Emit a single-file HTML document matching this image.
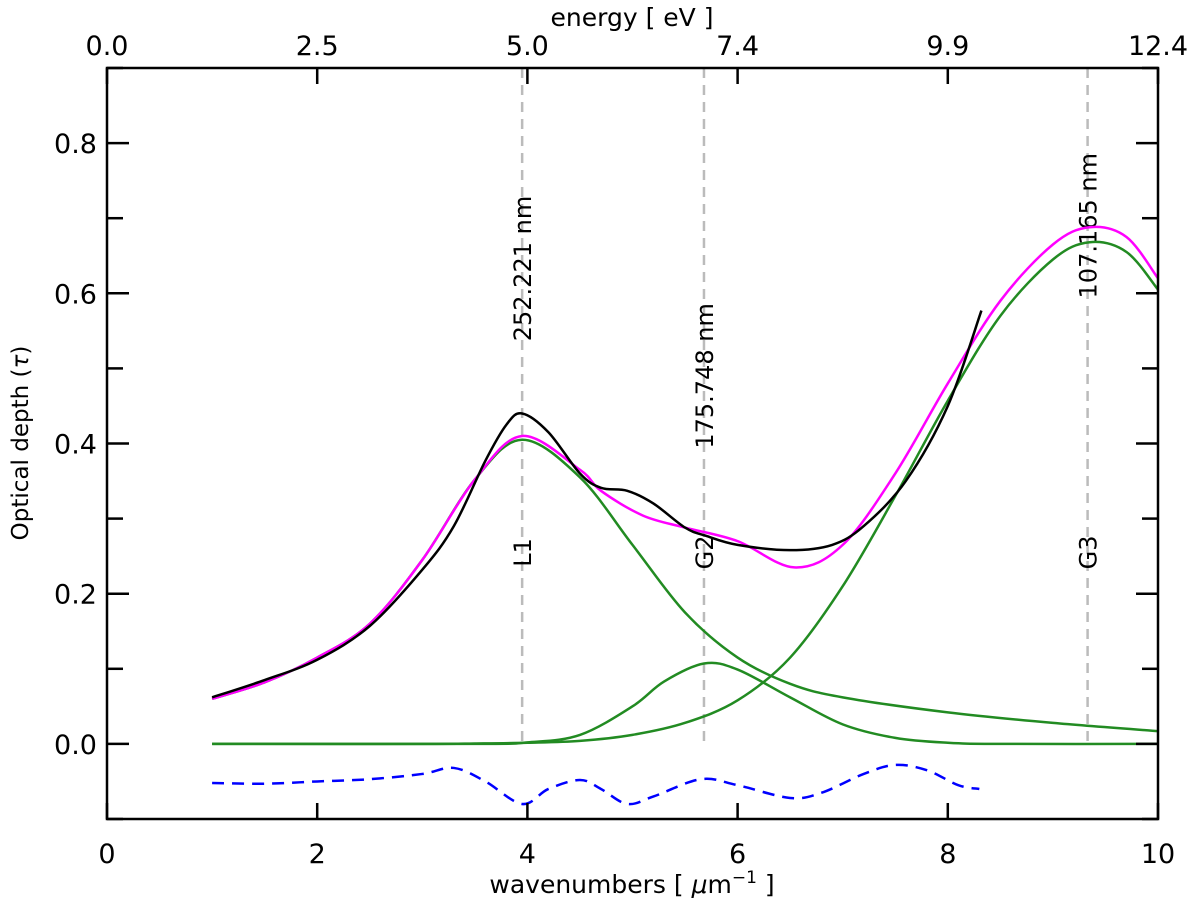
<!DOCTYPE html>
<html><head><meta charset="utf-8"><style>
body{margin:0;background:#fff}
svg text{font-family:"DejaVu Sans","Liberation Sans",sans-serif;fill:#000}
</style></head><body>
<svg id="chart" width="1200" height="907" viewBox="0 0 1200 907" xmlns="http://www.w3.org/2000/svg">
<g id="plot"></g>
</svg>
<script>
const obsX=[1,1.5,2,2.5,3,3.3,3.6,3.8,3.95,4.2,4.5,4.7,4.95,5.2,5.5,5.7,6,6.5,6.9,7.2,7.6,8,8.32];
const obsY=[0.062,0.085,0.112,0.157,0.232,0.29,0.377,0.425,0.44,0.415,0.36,0.341,0.337,0.32,0.288,0.277,0.265,0.258,0.265,0.29,0.35,0.45,0.577];
const l1X=[1,1.5,2,2.5,3,3.5,3.95,4.5,5,5.5,6,6.5,7,8,9,10];
const l1Y=[0.06,0.082,0.115,0.16,0.245,0.352,0.405,0.355,0.265,0.175,0.115,0.08,0.062,0.042,0.028,0.017];
const g2X=[1,3.5,4,4.5,5,5.3,5.68,6,6.5,7,7.5,8,8.5,10];
const g2Y=[0,0,0.002,0.012,0.05,0.083,0.107,0.099,0.062,0.026,0.008,0.0015,0,0];
const g3X=[1,3,3.5,4,4.5,5,5.5,6,6.5,7,7.5,8,8.5,9,9.35,9.7,10];
const g3Y=[0,0,0.0005,0.0015,0.004,0.012,0.028,0.058,0.115,0.21,0.33,0.457,0.57,0.645,0.668,0.655,0.605];
const fitX=[1,1.5,2,2.5,3,3.5,3.95,4.5,4.7,5.1,5.5,6,6.54,7,7.5,8,8.5,9,9.35,9.7,10];
const fitY=[0.06,0.082,0.115,0.16,0.245,0.352,0.41,0.365,0.337,0.304,0.288,0.27,0.235,0.265,0.36,0.48,0.59,0.665,0.688,0.675,0.62];
const resX=[1,1.5,2,2.5,3,3.3,3.6,3.95,4.2,4.5,4.7,4.95,5.2,5.65,6,6.5,6.8,7.2,7.5,7.8,8.1,8.3];
const resY=[-0.052,-0.053,-0.05,-0.047,-0.04,-0.032,-0.05,-0.08,-0.06,-0.048,-0.06,-0.08,-0.07,-0.047,-0.055,-0.072,-0.065,-0.04,-0.028,-0.035,-0.055,-0.06];
const bottomTicks=[0,2,4,6,8,10];
const topTickLabels=["0.0","2.5","5.0","7.4","9.9","12.4"];
const yTicks=[0,0.2,0.4,0.6,0.8];
const lineX=[3.95,5.68,9.33];
const lineNm=["252.221 nm","175.748 nm","107.165 nm"];
const lineId=["L1","G2","G3"];
const nmLabelY=[0.633,0.49,0.69];

const X0=107,X1=1158,Y0=819,Y1=68;
const sx=v=>X0+(v-0)/(10-0)*(X1-X0);
const sy=v=>Y0-(v+0.1)/(1.0)*(Y0-Y1);
const g=document.getElementById('plot');
const NS='http://www.w3.org/2000/svg';
function mk(t,a,p){const e=document.createElementNS(NS,t);for(const k in a)e.setAttribute(k,a[k]);(p||g).appendChild(e);return e;}
function smooth(xs,ys){const P=xs.map((x,i)=>[sx(x),sy(ys[i])]);let d='M'+P[0][0]+','+P[0][1];
for(let i=0;i<P.length-1;i++){const p0=P[i-1]||P[i],p1=P[i],p2=P[i+1],p3=P[i+2]||p2;
const c1=[p1[0]+(p2[0]-p0[0])/6,p1[1]+(p2[1]-p0[1])/6],c2=[p2[0]-(p3[0]-p1[0])/6,p2[1]-(p3[1]-p1[1])/6];
d+=' C'+c1+' '+c2+' '+p2;}return d;}
lineX.forEach((v,i)=>{
 const l=mk('line',{x1:sx(v),x2:sx(v),y1:Y1,y2:sy(0),stroke:'#bbb','stroke-width':2.5,'stroke-dasharray':'10,7'});
 
 
 const t=mk('text',{x:0,y:0,'font-size':24,'text-anchor':'middle',transform:`translate(${sx(v)+9},${sy(nmLabelY[i])}) rotate(-90)`});t.textContent=lineNm[i];
 
 
 const t2=mk('text',{x:0,y:0,'font-size':24,'text-anchor':'middle',transform:`translate(${sx(v)+9},${sy(0.255)}) rotate(-90)`});t2.textContent=lineId[i];
 
 
});
function series(xs,ys,col,name,dash){const p=mk('path',{d:smooth(xs,ys),fill:'none',stroke:col,'stroke-width':2.5});if(dash)p.setAttribute('stroke-dasharray',dash);
 
 }
series(l1X,l1Y,'#228b22','l1-component');
series(g2X,g2Y,'#228b22','g2-component');
series(g3X,g3Y,'#228b22','g3-component');
series(fitX,fitY,'#ff00ff','total-fit');
series(obsX,obsY,'#000','observed-spectrum');
series(resX,resY,'#0000ff','residual','12,8');
const fr=mk('rect',{x:X0,y:Y1,width:X1-X0,height:Y0-Y1,fill:'none',stroke:'#000','stroke-width':2.5});


bottomTicks.forEach((v,i)=>{const x=sx(v);
 mk('line',{x1:x,x2:x,y1:Y0,y2:Y0-16,stroke:'#000','stroke-width':2.5});
 mk('line',{x1:x,x2:x,y1:Y1,y2:Y1+16,stroke:'#000','stroke-width':2.5});
 const t=mk('text',{x:x,y:Y0+44,'font-size':27,'text-anchor':'middle'});t.textContent=v;
 
 
 const t2=mk('text',{x:x,y:Y1-13,'font-size':27,'text-anchor':'middle'});t2.textContent=topTickLabels[i];
 
 
});
for(let k=-1;k<=9;k++){const v=k/10,y=sy(v),len=(k%2===0)?22:16;
 mk('line',{x1:X0,x2:X0+len,y1:y,y2:y,stroke:'#000','stroke-width':2.5});
 mk('line',{x1:X1,x2:X1-len,y1:y,y2:y,stroke:'#000','stroke-width':2.5});}
yTicks.forEach(v=>{const t=mk('text',{x:X0-10,y:sy(v)+10,'font-size':27,'text-anchor':'end'});t.textContent=v.toFixed(1);
 
 });
const xt=mk('text',{x:632,y:893,'font-size':25,'text-anchor':'middle'});xt.innerHTML='wavenumbers [ <tspan font-style="italic">μ</tspan>m<tspan dy="-10" font-size="17">−1</tspan><tspan dy="10"> ]</tspan>';


const tt=mk('text',{x:632,y:26,'font-size':25,'text-anchor':'middle'});tt.textContent='energy [ eV ]';


const yt=mk('text',{x:0,y:0,'font-size':23,'text-anchor':'middle',transform:'translate(28,443) rotate(-90)'});yt.innerHTML='Optical depth (<tspan font-style="italic">τ</tspan>)';


</script>
</body></html>
